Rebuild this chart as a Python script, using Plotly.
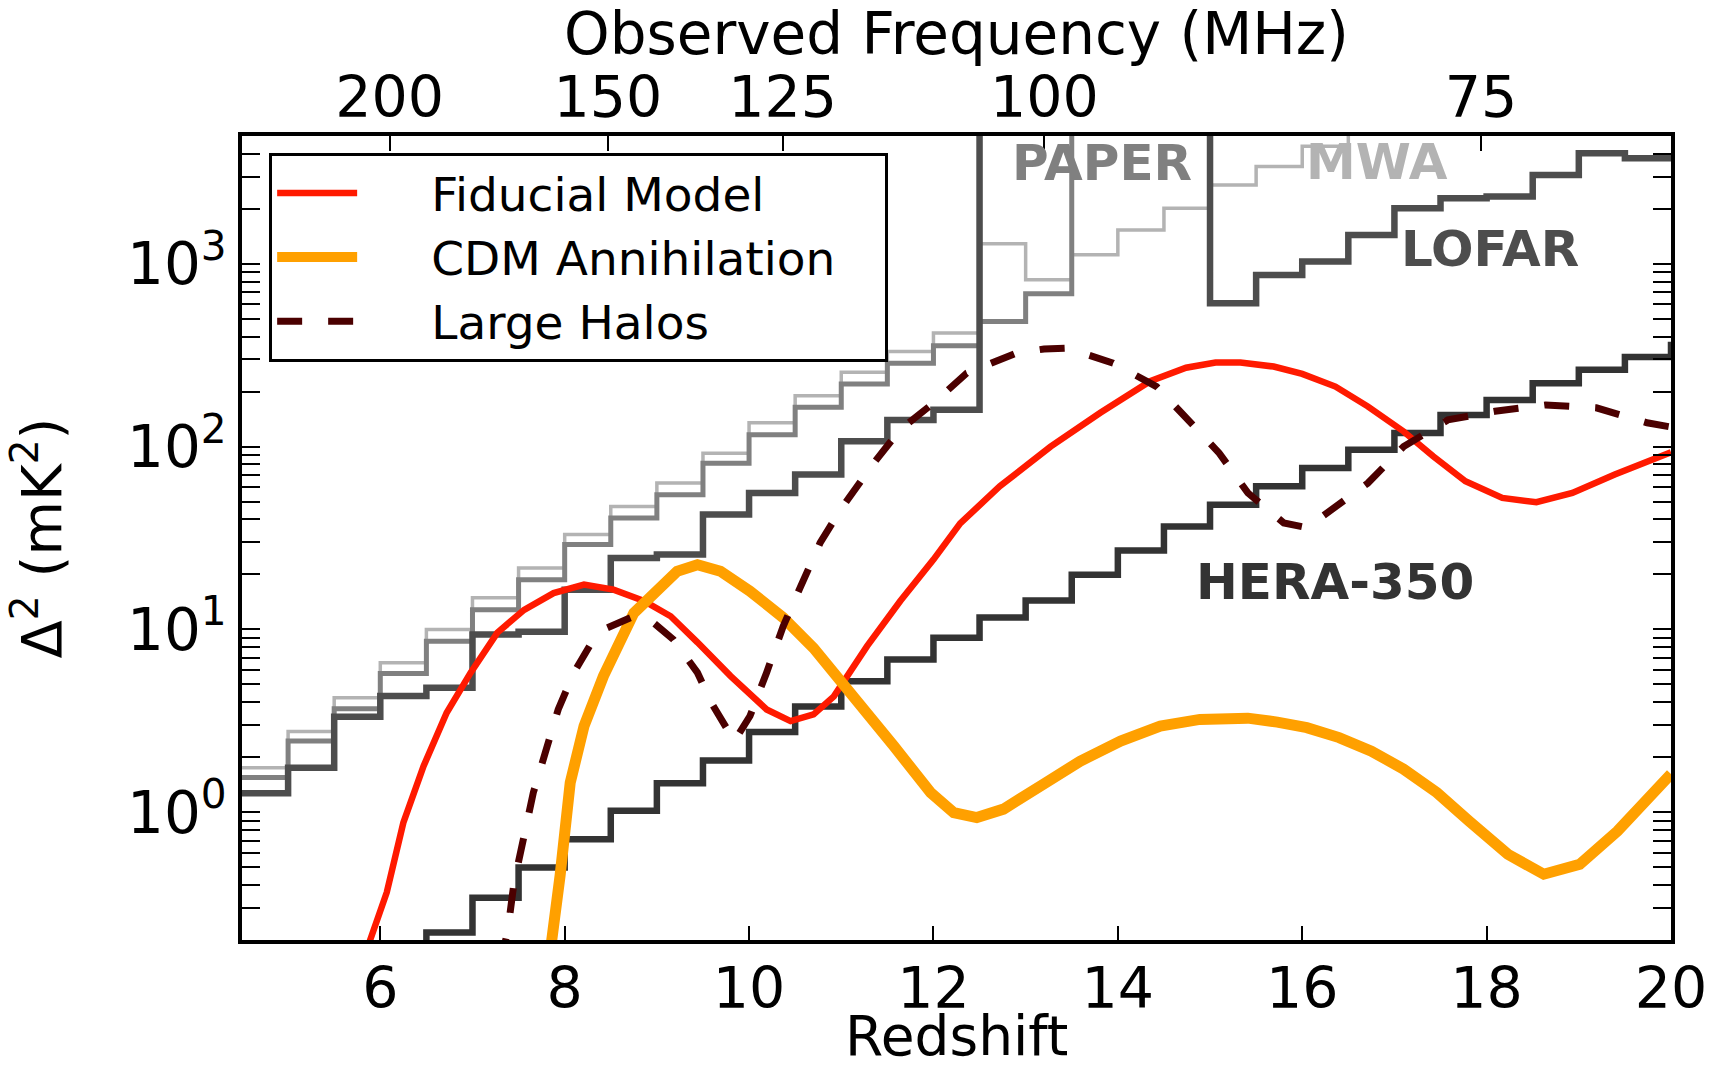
import numpy as np
import plotly.graph_objects as go

# 21-cm rest frequency (MHz), used for the observed-frequency axis
NU_21CM = 1420.405751

# Off-scale sensitivity (instrument blind in this band)
OFF_SCALE = 1e5

# ---- Instrument sensitivities: step functions on 0.5-wide redshift bins ----
mwa_edges = [4.5, 5.0, 5.5, 6.0, 6.5, 7.0, 7.5, 8.0, 8.5, 9.0, 9.5, 10.0, 10.5,
             11.0, 11.5, 12.0, 12.5, 13.0, 13.5, 14.0, 14.5, 15.0, 15.5, 16.0, 16.5]
mwa_vals = [1.75, 2.76, 4.23, 6.57, 10.0, 14.9, 21.7, 33.0, 47.0, 63.3, 92.0, 135.0, 190.0,
            255.0, 331.0, 418.0, 1285.0, 817.0, 1119.0, 1531.0, 2013.0, 2700.0, 3400.0, 4400.0,
            OFF_SCALE]

paper_edges = [4.5, 5.0, 5.5, 6.0, 6.5, 7.0, 7.5, 8.0, 8.5, 9.0, 9.5, 10.0, 10.5,
               11.0, 11.5, 12.0, 12.5, 13.0, 13.5]
paper_vals = [1.55, 2.45, 3.68, 5.74, 8.62, 12.8, 18.7, 29.1, 40.7, 54.6, 81.0, 116.0, 164.0,
              220.0, 286.0, 356.0, 483.0, 685.0, OFF_SCALE]

lofar_edges = [4.5, 5.0, 5.5, 6.0, 6.5, 7.0, 7.5, 8.0, 8.5, 9.0, 9.5, 10.0, 10.5,
               11.0, 11.5, 12.0, 12.5, 15.0, 15.5, 16.0, 16.5, 17.0, 17.5, 18.0, 18.5,
               19.0, 19.5, 20.0]
lofar_vals = [1.27, 1.75, 3.33, 4.32, 4.8, 9.38, 9.7, 16.5, 24.6, 25.7, 42.5, 55.8, 70.3,
              107.0, 140.0, 159.0, OFF_SCALE, 609.0, 869.0, 1028.0, 1439.0, 2013.0, 2284.0,
              2330.0, 3060.0, 4020.0, 3775.0, 3775.0]

hera_edges = [6.0, 6.5, 7.0, 7.5, 8.0, 8.5, 9.0, 9.5, 10.0, 10.5, 11.0, 11.5, 12.0,
              12.5, 13.0, 13.5, 14.0, 14.5, 15.0, 15.5, 16.0, 16.5, 17.0, 17.5, 18.0,
              18.5, 19.0, 19.5, 20.0, 20.5]
hera_vals = [0.1, 0.22, 0.341, 0.498, 0.711, 1.02, 1.44, 1.92, 2.75, 3.79, 5.21, 6.85, 9.0,
             11.6, 14.4, 19.9, 27.0, 36.5, 48.0, 60.6, 76.4, 96.2, 118.6, 149.0, 180.0,
             222.0, 263.0, 309.0, 360.0, 360.0]

# ---- Model power spectra ----
fid_z = [5.8, 5.89, 6.07, 6.25, 6.47, 6.72, 6.98, 7.27, 7.56, 7.88, 8.21, 8.53, 8.86,
         9.15, 9.44, 9.8, 10.19, 10.45, 10.7, 10.92, 11.28, 11.64, 12.0, 12.29, 12.72,
         13.27, 13.81, 14.35, 14.74, 15.06, 15.33, 15.69, 16.0, 16.36, 16.71, 17.1,
         17.42, 17.77, 18.17, 18.54, 18.93, 19.39, 20.0]
fid_d2 = [0.12, 0.2, 0.364, 0.877, 1.79, 3.5, 5.8, 9.6, 12.8, 15.8, 17.6, 16.5, 14.3,
          11.8, 8.5, 5.55, 3.65, 3.15, 3.43, 4.3, 8.1, 14.3, 24.1, 38.0, 60.7,
          100.0, 153.0, 228.0, 270.0, 288.0, 288.0, 274.0, 250.0, 213.0, 166.0, 121.0,
          88.5, 64.6, 52.4, 49.6, 55.8, 70.3, 93.0]

cdm_z = [7.82, 7.86, 7.95, 8.06, 8.21, 8.42, 8.75, 9.22, 9.44, 9.69, 10.01, 10.37,
         10.7, 10.99, 11.57, 11.97, 12.22, 12.47, 12.76, 13.19, 13.59, 14.03, 14.46,
         14.89, 15.14, 15.41, 15.73, 16.05, 16.4, 16.75, 17.1, 17.46, 17.81, 18.23,
         18.62, 19.01, 19.42, 20.0]
cdm_d2 = [0.1, 0.2, 0.449, 1.45, 2.96, 5.55, 12.3, 20.8, 22.6, 20.8, 16.2, 11.6,
          7.9, 5.3, 2.3, 1.28, 0.995, 0.935, 1.04, 1.42, 1.9, 2.45, 2.96,
          3.22, 3.29, 3.27, 3.11, 2.9, 2.56, 2.16, 1.72, 1.28, 0.895, 0.589,
          0.458, 0.519, 0.789, 1.62]

halo_z = [7.3, 7.38, 7.45, 7.56, 7.66, 7.79, 7.93, 8.1, 8.28, 8.46, 8.75, 8.96, 9.18,
          9.44, 9.6, 9.84, 10.01, 10.19, 10.37, 10.56, 10.77, 10.99, 11.35, 11.64,
          12.0, 12.36, 12.9, 13.2, 13.45, 13.95, 14.42, 14.86, 15.1, 15.41, 15.8,
          16.05, 16.32, 16.71, 17.1, 17.58, 18.09, 18.64, 19.19, 19.74, 20.0]
halo_d2 = [0.15, 0.22, 0.41, 0.77, 1.28, 2.12, 3.65, 5.8, 8.27, 10.2, 11.8, 10.9, 8.8,
           5.8, 3.9, 2.45, 3.36, 5.8, 10.4, 17.2, 29.7, 45.0, 81.0, 124.0,
           173.0, 252.0, 325.0, 342.0, 346.0, 286.0, 213.0, 124.0, 92.0, 55.8, 38.2,
           36.0, 45.0, 63.0, 100.0, 140.0, 156.0, 169.0, 163.0, 135.0, 128.0]

# ---- Axis labels ----
z_ticks = [6, 8, 10, 12, 14, 16, 18, 20]
freq_ticks = [200, 150, 125, 100, 75]
y_ticks = [1, 10, 100, 1000]
y_ticktext = ["10<sup>0</sup>", "10<sup>1</sup>", "10<sup>2</sup>", "10<sup>3</sup>"]

Z_RANGE = [4.5, 20.0]
Y_RANGE = [0.2, 5000.0]

FONT = "DejaVu Sans"
PAD = "\u00a0" * 4 + "\u2009"   # gap between legend sample and its label


def step_trace(edges, vals, color, width):
    return go.Scatter(x=edges, y=vals, mode="lines", line_shape="hv",
                      line=dict(color=color, width=width), showlegend=False,
                      hoverinfo="skip")


fig = go.Figure()

fig.add_trace(step_trace(mwa_edges, mwa_vals, "#b3b3b3", 3.5))
fig.add_trace(step_trace(paper_edges, paper_vals, "#808080", 5))
fig.add_trace(step_trace(lofar_edges, lofar_vals, "#4d4d4d", 6.5))
fig.add_trace(step_trace(hera_edges, hera_vals, "#333333", 6.5))

# model curves live on the redshift axis shared with the frequency axis (same range)
fig.add_trace(go.Scatter(x=fid_z, y=fid_d2, mode="lines", xaxis="x2",
                         name=PAD + "Fiducial Model",
                         line=dict(color="#ff1a00", width=6.5)))
fig.add_trace(go.Scatter(x=cdm_z, y=cdm_d2, mode="lines", xaxis="x2",
                         name=PAD + "CDM Annihilation" + "\u00a0" * 3,
                         line=dict(color="#ffa000", width=11)))
fig.add_trace(go.Scatter(x=halo_z, y=halo_d2, mode="lines", xaxis="x2",
                         name=PAD + "Large Halos",
                         line=dict(color="#4b0000", width=7, dash="25px,26px")))

# instrument labels
labels = [
    ("PAPER", 13.83, 3580, "#808080"),
    ("MWA", 16.81, 3600, "#b3b3b3"),
    ("LOFAR", 18.04, 1207, "#4d4d4d"),
    ("HERA-350", 16.36, 18.2, "#333333"),
]
for text, zx, val, col in labels:
    fig.add_annotation(x=zx, y=np.log10(val), xref="x", yref="y", text="<b>%s</b>" % text,
                       showarrow=False, font=dict(family=FONT, size=50, color=col),
                       xanchor="center", yanchor="middle")

# bottom axis title, resting on the lower edge of the figure
fig.add_annotation(x=0.5, y=-0.1619, xref="paper", yref="paper", text="Redshift",
                   showarrow=False, font=dict(family=FONT, size=55, color="black"),
                   xanchor="center", yanchor="bottom")

minor_vals = [m * 10.0 ** e for e in range(-1, 4) for m in range(2, 10)
              if Y_RANGE[0] <= m * 10.0 ** e <= Y_RANGE[1]]

freq_z = [NU_21CM / f - 1.0 for f in freq_ticks]

fig.update_layout(
    template="none",
    width=1719, height=1071,
    margin=dict(l=242, r=48, t=136, b=131, autoexpand=False),
    paper_bgcolor="white", plot_bgcolor="white",
    font=dict(family=FONT, color="black"),
    showlegend=True,
    legend=dict(x=0.019, y=0.979, xanchor="left", yanchor="top",
                bgcolor="white", bordercolor="black", borderwidth=3,
                font=dict(family=FONT, size=47, color="black"),
                itemwidth=80, tracegroupgap=0),
    xaxis=dict(range=Z_RANGE, tickmode="array", tickvals=z_ticks,
               ticks="inside", ticklen=14, tickwidth=2, tickcolor="black",
               ticklabelstandoff=-4,
               showline=True, linewidth=3.5, linecolor="black", mirror=True,
               showgrid=False, zeroline=False, automargin=True,
               tickfont=dict(family=FONT, size=57)),
    xaxis2=dict(range=Z_RANGE, overlaying="x", side="top", anchor="y",
                tickmode="array", tickvals=freq_z, ticktext=[str(f) for f in freq_ticks],
                ticks="inside", ticklen=15, tickwidth=2, tickcolor="black",
                ticklabelstandoff=7,
                showline=False, showgrid=False, zeroline=False, automargin=True,
                tickfont=dict(family=FONT, size=57),
                title=dict(text="Observed Frequency (MHz)", font=dict(family=FONT, size=58),
                           standoff=12)),
    yaxis=dict(type="log", range=[np.log10(Y_RANGE[0]), np.log10(Y_RANGE[1])],
               tickmode="array", tickvals=y_ticks, ticktext=y_ticktext,
               ticks="inside", ticklen=18, tickwidth=2, tickcolor="black",
               showline=True, linewidth=3.5, linecolor="black", mirror="allticks",
               showgrid=False, zeroline=False, automargin=True,
               tickfont=dict(family=FONT, size=58),
               minor=dict(tickmode="array", tickvals=minor_vals, ticks="inside",
                          ticklen=10, tickwidth=2, tickcolor="black", showgrid=False),
               title=dict(text="Δ<sup>2</sup> (mK<sup>2</sup>)", font=dict(family=FONT, size=56),
                          standoff=48)),
)

fig.write_html("out.html")
